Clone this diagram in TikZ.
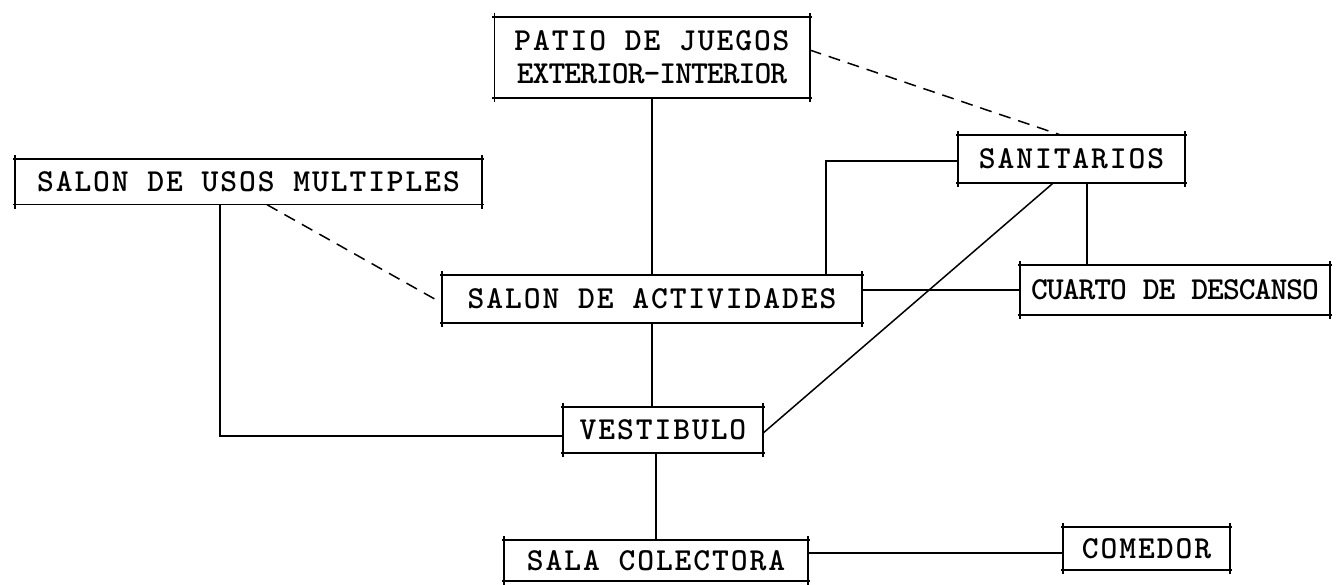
\documentclass[tikz,border=0pt]{standalone}
\usepackage{fontspec}
\usepackage{tikz}
\newfontfamily\typew{lmmonolt10-bold}[Extension=.otf, LetterSpace=6]
\newfontfamily\typen{lmmonolt10-bold}[Extension=.otf, LetterSpace=-3]

\begin{document}
\begin{tikzpicture}[
    x=1pt, y=-1pt,
    rim/.style={line width=1.6pt},
    link/.style={line width=1.5pt},
    dlink/.style={line width=1.5pt, dash pattern=on 12pt off 8pt},
    room/.style={inner sep=0pt, align=center, font=\fontsize{32}{33}\selectfont\typew,
      append after command={
        ([yshift=4pt]\tikzlastnode.north west) edge[rim] ([yshift=-4pt]\tikzlastnode.south west)
        ([yshift=4pt]\tikzlastnode.north east) edge[rim] ([yshift=-4pt]\tikzlastnode.south east)
        ([xshift=-2pt]\tikzlastnode.north west) edge[rim] ([xshift=2pt]\tikzlastnode.north east)
        ([xshift=-2pt]\tikzlastnode.south west) edge[rim] ([xshift=2pt]\tikzlastnode.south east)
      }}
]
\useasboundingbox (0,0) rectangle (1341,585);

\node[room, minimum width=315pt, minimum height=81pt] (patio) at (652,57.5) {PATIO DE JUEGOS\\{\typen EXTERIOR-INTERIOR}};
\node[room, minimum width=467pt, minimum height=45pt] (usos) at (248.5,182) {SALON DE USOS MULTIPLES};
\node[room, minimum width=227pt, minimum height=48pt] (sanit) at (1071.5,159) {SANITARIOS};
\node[room, minimum width=420pt, minimum height=48pt] (activ) at (652,299) {SALON DE ACTIVIDADES};
\node[room, minimum width=310pt, minimum height=50pt, font=\fontsize{32}{33}\selectfont\typen] (cuarto) at (1175,290) {CUARTO DE DESCANSO};
\node[room, minimum width=200pt, minimum height=46pt] (vest) at (663,430) {VESTIBULO};
\node[room, minimum width=304pt, minimum height=41pt] (sala) at (656,560.5) {SALA COLECTORA};
\node[room, minimum width=167pt, minimum height=43pt] (comedor) at (1146.5,548.5) {COMEDOR};

% solid links
\draw[link] (patio) -- (activ);
\draw[link] (activ.south) -- (activ.south |- vest.north);
\draw[link] (sala.north |- vest.south) -- (sala.north);
\draw[link] ([xshift=-28.5pt]usos.south) |- ([yshift=-6pt]vest.west);
\draw[link] ([xshift=174pt]activ.north) |- ([yshift=-2pt]sanit.west);
\draw[link] (cuarto.west -| activ.east) -- (cuarto.west);
\draw[link] ([yshift=-3pt]vest.east) -- ([xshift=-18.5pt]sanit.south);
\draw[link] ([xshift=15.5pt]sanit.south) -- ([xshift=15.5pt]sanit.south |- cuarto.north);
\draw[link] ([yshift=-4.5pt]comedor.west -| sala.east) -- ([yshift=-4.5pt]comedor.west);

% dashed links
\draw[dlink] ([yshift=7.5pt]patio.east) -- ([xshift=-11.5pt]sanit.north);
\draw[dlink] ([xshift=18.5pt]usos.south) -- ([yshift=-4pt]activ.west);
\end{tikzpicture}
\end{document}
